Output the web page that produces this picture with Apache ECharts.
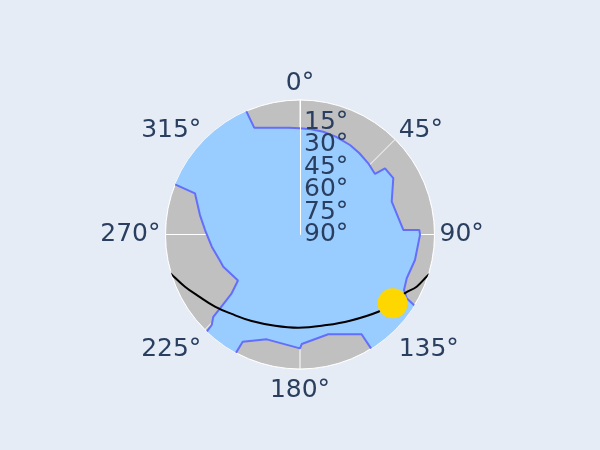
<!DOCTYPE html>
<html><head><meta charset="utf-8">
<script src="https://cdn.jsdelivr.net/npm/echarts@6/dist/echarts.min.js"></script>
<style>html,body{margin:0;padding:0;background:#e5ecf6;} #c{width:600px;height:450px;}</style>
</head><body><div id="c"></div>
<script>
// Tick values
const angleTicks = [0, 45, 90, 135, 180, 225, 270, 315];
const radialTicks = [15, 30, 45, 60, 75, 90];

// Horizon profile: azimuth (deg, clockwise from north) and elevation (deg)
const horizonAz = [0, 6, 12.8, 20, 29.2, 36, 43.8, 51.1, 52.1, 58.9, 70.3, 87.5, 87.8, 90.2, 102.5, 112.3, 118.1, 120.9, 122.2,
  127, 132, 137, 142, 148.0, 148.3, 164.2, 179.1, 180, 197.6, 208.1, 208.5, 213, 218, 223.6, 224.3, 226.5, 227.3,
  229.3, 233.4, 247.2, 252, 262.1, 272.7, 281, 291.4, 291.9, 297, 302, 307, 312, 317, 322, 327, 332, 336.4, 336.8, 347.7, 354, 360];
const horizonEl = [18.9, 19.2, 19.5, 20.3, 21.4, 22.6, 24.0, 25.5, 17.9, 17.1, 24.8, 20.8, 10.1, 9.7, 11.2, 12.8, 11.1, 6.8, -3,
  -3, -3, -3, -3, -3, 11.6, 20.6, 16.7, 13.8, 16.4, 8.6, -3, -3, -3, -3, 5.4, 10.0, 17.2,
  29.7, 38.3, 34.3, 33.6, 30.4, 26.4, 21.8, 14.5, -3, -3, -3, -3, -3, -3, -3, -3, -3, -3, 12.2, 16.9, 18.2, 18.9];

// Sun path for the day
const sunPathAz = [106.5, 107.5, 114.1, 119.2, 126.6, 134.6, 149.9, 163.6, 181, 195.3, 209.2, 220.7, 229.7, 238.8, 245.6, 253.0, 254.5];
const sunPathEl = [-1.5, 0, 4.5, 9.5, 12.8, 16.4, 23.3, 26.8, 27.6, 26.7, 23.7, 19.9, 15.4, 10.5, 5.5, -0.2, -1.5];

// Current sun position
const sunAz = [126.6];
const sunEl = [12.8];

const zipPolar = (el, az) => el.map((e, i) => [e, az[i]]);

const FONT = 'DejaVu Sans';
const TXT = '#2a3f5f';
const base = { fontFamily: FONT, fontSize: 25, color: TXT };
const angleStyleKey = v => v === 0 ? 't' : (v === 45 || v === 315) ? 'td' : (v === 90 || v === 270) ? 's' : (v === 135 || v === 225) ? 'bd' : 'b';
const CENTER = [300, 234.5], RADIUS = 134.5;
const lastRadial = radialTicks[radialTicks.length - 1];

const radialLabelAxis = (polarIndex, showLine, pick) => ({
  polarIndex, type: 'value', min: 0, max: 90, interval: 15, inverse: true, z: 10,
  axisLine: { show: showLine, lineStyle: { color: '#ffffff', width: 1 } },
  axisTick: { show: false },
  axisLabel: {
    show: true, margin: -4, align: 'left', verticalAlign: 'middle',
    formatter: v => (radialTicks.includes(v) && pick(v)) ? v + '°' : '', ...base
  },
  splitLine: { show: false }, splitArea: { show: false }
});

const chart = echarts.init(document.getElementById('c'), null, { renderer: 'canvas' });
const option = {
  backgroundColor: '#e5ecf6',
  animation: false,
  polar: [
    { center: CENTER, radius: RADIUS },
    { center: CENTER, radius: RADIUS },
    { center: CENTER, radius: RADIUS }
  ],
  angleAxis: [
    {
      polarIndex: 0, type: 'value', min: 0, max: 360, interval: 45, startAngle: 90, clockwise: true,
      axisLine: { show: true, lineStyle: { color: '#ffffff', width: 1 } },
      axisTick: { show: false },
      axisLabel: {
        show: true, margin: 5, ...base,
        formatter: v => angleTicks.includes(v) ? '{' + angleStyleKey(v) + '|' + v + '°}' : '',
        rich: {
          t: { ...base, lineHeight: 23 },
          td: { ...base, lineHeight: 10 },
          s: { ...base, lineHeight: 25 },
          bd: { ...base, lineHeight: 32 },
          b: { ...base, lineHeight: 33 }
        }
      },
      splitLine: { show: true, lineStyle: { color: '#ffffff', width: 1 } }
    },
    { polarIndex: 1, type: 'value', min: 0, max: 360, startAngle: 90, clockwise: true, show: false },
    { polarIndex: 2, type: 'value', min: 0, max: 360, startAngle: 90, clockwise: true, show: false }
  ],
  radiusAxis: [
    {
      polarIndex: 0, type: 'value', min: 0, max: 90, interval: 15, inverse: true,
      axisLine: { show: false }, axisTick: { show: false }, axisLabel: { show: false },
      splitLine: { show: true, lineStyle: { color: '#ffffff', width: 1 } },
      splitArea: { show: true, areaStyle: { color: ['#c0c0c0'] } }
    },
    radialLabelAxis(1, true, v => v !== lastRadial),
    radialLabelAxis(2, false, v => v === lastRadial)
  ],
  series: [
    {
      type: 'line', coordinateSystem: 'polar', polarIndex: 0, symbol: 'none', z: 2,
      data: zipPolar(horizonEl, horizonAz),
      lineStyle: { color: '#636efa', width: 2 },
      areaStyle: { color: '#99ccff', opacity: 1, origin: 'end' }
    },
    {
      type: 'line', coordinateSystem: 'polar', polarIndex: 0, symbol: 'none', z: 3, smooth: 0.4,
      data: zipPolar(sunPathEl, sunPathAz),
      lineStyle: { color: '#000000', width: 2 }
    },
    {
      type: 'scatter', coordinateSystem: 'polar', polarIndex: 0, z: 4, symbolSize: 30,
      data: zipPolar(sunEl, sunAz),
      itemStyle: { color: '#ffd700', opacity: 1 }
    }
  ]
};
chart.setOption(option);
</script></body></html>
